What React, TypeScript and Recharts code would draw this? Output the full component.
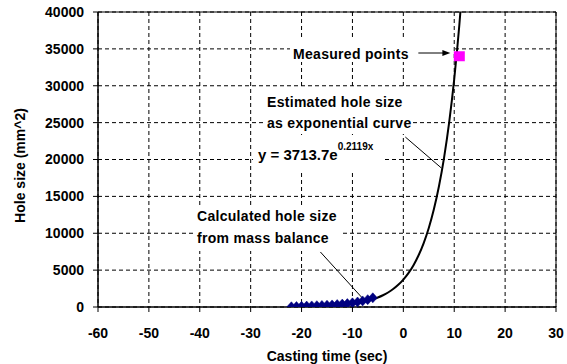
import {
  ComposedChart,
  Line,
  Scatter,
  XAxis,
  YAxis,
  CartesianGrid,
  ReferenceArea,
  ReferenceLine,
} from 'recharts'

// hole size back-calculated from the mass balance
const massBalanceTime = [-22, -21, -20, -19, -18, -17, -16, -15, -14, -13, -12, -11, -10, -9, -8, -7, -6]
const massBalanceHole = [30, 60, 90, 120, 150, 180, 210, 240, 280, 330, 390, 460, 560, 680, 820, 1000, 1250]

// measured hole
const measuredTime = [11]
const measuredHole = [34000]

// exponential fit  y = A * e^(B x)
const fitA = 3713.7
const fitB = 0.2119
const fitTime = [-13, -12, -11, -10, -9, -8, -7, -6, -5, -4, -3, -2, -1, 0, 1, 2, 3, 4, 5, 6, 7, 8, 9, 10, 11, 11.5]

const xTicks = [-60, -50, -40, -30, -20, -10, 0, 10, 20, 30]
const yTicks = [0, 5000, 10000, 15000, 20000, 25000, 30000, 35000, 40000]

// annotation leader lines, in data units
const calcArrow = [{ x: -16.3, y: 7460 }, { x: -8.06, y: 1220 }]
const fitArrow = [{ x: 0.39, y: 23050 }, { x: 7.47, y: 18850 }]
const measuredArrow = [{ x: 2.95, y: 34440 }, { x: 9.24, y: 34440 }]

const massBalanceData = massBalanceTime.map((x, i) => ({ x, y: massBalanceHole[i] }))
const measuredData = measuredTime.map((x, i) => ({ x, y: measuredHole[i] }))
const fitData = fitTime.map((x) => ({ x, y: fitA * Math.exp(fitB * x) }))

const FONT = '"Liberation Sans", Arial, sans-serif'
const tickStyle = { fill: '#000', fontSize: 14, fontWeight: 700, fontFamily: FONT }

const Diamond = (props: any) => {
  const { cx, cy } = props
  return (
    <polygon
      points={`${cx},${cy - 5} ${cx + 4.5},${cy} ${cx},${cy + 5} ${cx - 4.5},${cy}`}
      fill="#000080"
      stroke="#000080"
      strokeWidth={0.5}
    />
  )
}

const Square = (props: any) => {
  const { cx, cy } = props
  return <rect x={cx - 5.5} y={cy - 5} width={11} height={10} fill="#ff00ff" />
}

const ArrowHead = (props: any) => {
  const { x1, y1, x2, y2 } = props
  return (
    <g>
      <line x1={x1} y1={y1} x2={x2 - 6} y2={y2} stroke="#000" strokeWidth={1} />
      <polygon points={`${x2},${y2} ${x2 - 8},${y2 - 3} ${x2 - 8},${y2 + 3}`} fill="#000" />
    </g>
  )
}

const textStyle = { fontSize: 14, fontWeight: 700, fontFamily: FONT, fill: '#000' }

export default function App() {
  return (
    <div style={{ position: 'absolute', left: 0, top: 0, background: '#fff' }}>
      <ComposedChart width={567} height={364} margin={{ top: 12, right: 11, bottom: 0, left: 0 }}>
        <CartesianGrid stroke="#000" strokeDasharray="4 3" />
        <XAxis
          type="number"
          dataKey="x"
          domain={[-60, 30]}
          ticks={xTicks}
          allowDataOverflow
          height={57}
          tick={tickStyle}
          tickSize={5}
          tickMargin={16}
          axisLine={{ stroke: '#000' }}
          tickLine={{ stroke: '#000' }}
          label={{ value: 'Casting time (sec)', position: 'insideBottom', offset: 3, style: textStyle }}
        />
        <YAxis
          type="number"
          dataKey="y"
          domain={[0, 40000]}
          ticks={yTicks}
          allowDataOverflow
          width={98}
          tick={tickStyle}
          tickSize={5}
          tickMargin={9}
          axisLine={{ stroke: '#000' }}
          tickLine={{ stroke: '#000' }}
          label={{
            value: 'Hole size (mm^2)',
            angle: -90,
            position: 'insideLeft',
            offset: 20,
            dy: 6,
            style: { ...textStyle, textAnchor: 'middle' },
          }}
        />
        <ReferenceArea x1={-60} x2={30} y1={0} y2={40000} fill="none" stroke="#000" strokeWidth={1} />

        {/* white boxes behind the annotation texts */}
        <g>
          <rect x={290} y={40} width={162} height={22} fill="#fff" />
          <rect x={263} y={89} width={150} height={45} fill="#fff" />
          <rect x={253} y={138} width={129} height={32} fill="#fff" />
          <rect x={193} y={207} width={147} height={44} fill="#fff" />
          <text x={293} y={59} {...textStyle} letterSpacing={0.3}>Measured points</text>
          <text x={267} y={107} {...textStyle} letterSpacing={0.3}>Estimated hole size</text>
          <text x={267} y={128} {...textStyle} letterSpacing={0.3}>as exponential curve</text>
          <text x={258} y={160} {...textStyle} fontSize={15}>
            y = 3713.7e
            <tspan fontSize={10} dy={-10}>0.2119x</tspan>
          </text>
          <text x={197} y={221} {...textStyle} letterSpacing={0.3}>Calculated hole size</text>
          <text x={197} y={243} {...textStyle} letterSpacing={0.3}>from mass balance</text>
        </g>

        <ReferenceLine segment={calcArrow} stroke="#000" strokeWidth={1} ifOverflow="visible" />
        <ReferenceLine segment={fitArrow} stroke="#000" strokeWidth={1} ifOverflow="visible" />
        <ReferenceLine segment={measuredArrow} shape={ArrowHead} ifOverflow="visible" />

        <Scatter data={massBalanceData} shape={Diamond} isAnimationActive={false} />
        <Line
          data={fitData}
          dataKey="y"
          type="monotone"
          stroke="#000"
          strokeWidth={2}
          dot={false}
          isAnimationActive={false}
        />
        <Scatter data={measuredData} shape={Square} isAnimationActive={false} />
      </ComposedChart>
    </div>
  )
}
